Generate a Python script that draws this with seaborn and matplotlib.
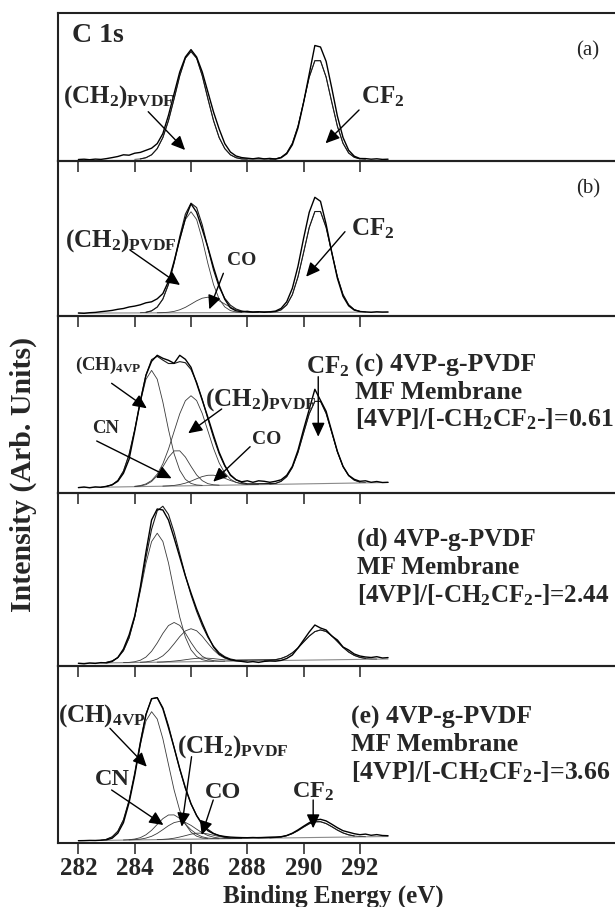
import numpy as np
import matplotlib
matplotlib.use("Agg")
from matplotlib import pyplot as plt
import seaborn as sns

# binding energy grid (eV) shared by every spectrum
energy = np.round(np.arange(282.0, 293.0001, 0.2), 1)

# measured C 1s spectra, 282.0 .. 293.0 eV (arb. units)
a_raw = [1.5, 1.8, 1.3, 1.9, 1.6, 2.4, 3.4, 4.5, 6.2, 5.8,
         7.8, 8.6, 10.7, 12.8, 17.4, 27.4, 45.7, 67.4, 89.0, 104.0,
         111.4, 104.0, 89.0, 69.0, 49.0, 32.0, 17.4, 9.0, 5.0, 3.4,
         2.8, 2.2, 3.0, 2.1, 2.6, 1.9, 3.2, 7.2, 16.2, 33.0,
         58.5, 87.0, 115.5, 114.0, 99.6, 73.0, 44.9, 23.5, 10.8, 4.8,
         2.5, 2.4, 1.8, 2.2, 1.6, 1.8]
b_raw = [3.3, 3.0, 3.6, 3.9, 4.6, 5.2, 5.9, 7.0, 7.8, 9.3,
         10.2, 11.5, 13.5, 14.5, 17.5, 22.7, 35.0, 55.0, 77.0, 98.0,
         112.5, 104.0, 87.0, 69.0, 49.0, 31.0, 17.0, 8.5, 5.5, 4.6,
         5.0, 4.2, 4.6, 4.0, 4.5, 5.2, 7.9, 14.5, 28.0, 50.0,
         78.0, 104.0, 119.0, 115.0, 92.0, 64.0, 38.0, 20.0, 10.5, 6.2,
         4.8, 4.4, 4.0, 4.5, 4.2, 4.3]
c_raw = [5.7, 6.3, 5.5, 6.4, 6.0, 7.0, 8.5, 12.0, 20.0, 34.0,
         62.0, 92.0, 118.0, 132.0, 138.0, 135.0, 133.0, 130.0, 138.0, 134.0,
         126.0, 110.0, 93.0, 76.0, 58.0, 41.0, 28.0, 18.0, 13.5, 11.5,
         12.5, 11.0, 12.5, 12.0, 11.0, 12.0, 13.5, 18.0, 27.0, 43.0,
         64.0, 84.0, 104.0, 93.0, 82.0, 62.0, 42.0, 27.0, 18.0, 14.0,
         12.0, 12.5, 11.0, 11.8, 10.8, 11.0]
d_raw = [2.7, 2.2, 3.0, 2.6, 3.4, 3.1, 4.5, 8.5, 17.0, 31.0,
         50.0, 79.0, 114.0, 146.0, 157.0, 156.0, 146.0, 128.0, 109.0, 90.0,
         73.0, 57.0, 43.0, 30.0, 19.0, 12.0, 8.5, 6.3, 5.2, 4.6,
         3.8, 4.4, 3.6, 4.6, 5.0, 4.8, 5.6, 7.5, 11.0, 18.0,
         26.0, 34.0, 41.0, 38.0, 36.0, 30.0, 26.0, 19.0, 16.0, 12.0,
         10.0, 9.0, 8.5, 9.3, 8.0, 8.4]
e_raw = [2.0, 2.1, 2.3, 2.2, 2.5, 2.9, 4.5, 9.5, 20.0, 40.0,
         67.0, 99.0, 128.0, 144.0, 145.0, 134.0, 115.0, 95.0, 74.0, 55.0,
         39.0, 27.0, 18.0, 12.0, 9.0, 7.2, 6.2, 5.6, 5.3, 5.1,
         5.0, 5.2, 4.9, 5.1, 5.3, 5.5, 6.0, 7.2, 9.5, 12.8,
         16.5, 20.0, 22.5, 23.4, 21.8, 18.5, 15.0, 12.0, 10.5, 9.0,
         8.0, 8.6, 7.4, 8.1, 7.2, 7.0]

# background line: level at 282 eV and at 293 eV
a_base = [1.5, 1.5]
b_base = [3.2, 4.2]
c_base = [5.7, 10.8]
d_base = [2.7, 7.0]
e_base = [2.0, 6.2]

# fitted components above the background: (first energy, values every 0.2 eV)
a_peaks = {
    "CH2": (284.0, [0.2, 0.6, 1.8, 4.7, 10.9, 21.9, 38.9, 60.8, 83.7, 101.3, 108.0,
                    101.3, 83.7, 60.8, 38.9, 21.9, 10.9, 4.7, 1.8, 0.6, 0.2]),
    "CF2": (288.8, [0.1, 0.6, 2.2, 6.5, 16.2, 33.3, 57.4, 82.4, 98.8,
                    98.8, 82.4, 57.4, 33.3, 16.2, 6.5, 2.2, 0.6, 0.1]),
}
b_peaks = {
    "CH2": (284.2, [0.2, 0.6, 2.0, 5.7, 13.6, 28.1, 49.2, 73.3, 93.2, 101.0,
                    93.2, 73.3, 49.2, 28.1, 13.6, 5.7, 2.0, 0.6, 0.2]),
    "CO": (284.8, [0.1, 0.2, 0.6, 1.4, 3.0, 5.4, 8.6, 11.9, 14.5, 15.5,
                   14.5, 11.9, 8.6, 5.4, 3.0, 1.4, 0.6, 0.2, 0.1]),
    "CF2": (288.8, [0.2, 0.8, 2.6, 7.5, 17.7, 35.5, 59.8, 84.8, 100.8,
                    100.8, 84.8, 59.8, 35.5, 17.7, 7.5, 2.6, 0.8, 0.2]),
}
c_peaks = {
    "CH": (282.8, [0.2, 0.7, 2.3, 6.5, 15.7, 32.2, 56.5, 84.2, 107.1, 116.0,
                   107.1, 84.2, 56.5, 32.2, 15.7, 6.5, 2.3, 0.7, 0.2]),
    "CN": (284.0, [0.1, 0.6, 1.8, 4.9, 10.7, 19.4, 28.8, 35.1,
                   35.1, 28.8, 19.4, 10.7, 4.9, 1.8, 0.6, 0.1]),
    "CH2": (284.0, [0.4, 1.0, 2.6, 5.9, 12.2, 22.4, 37.0, 54.6, 72.1, 85.1, 90.0,
                    85.1, 72.1, 54.6, 37.0, 22.4, 12.2, 5.9, 2.6, 1.0, 0.4]),
    "CO": (285.0, [0.1, 0.3, 0.6, 1.4, 2.7, 4.6, 6.9, 9.0, 10.2,
                   10.2, 9.0, 6.9, 4.6, 2.7, 1.4, 0.6, 0.3, 0.1]),
    "CF2": (288.8, [0.3, 0.9, 2.9, 7.5, 16.6, 31.5, 51.0, 70.1, 82.3,
                    82.3, 70.1, 51.0, 31.5, 16.6, 7.5, 2.9, 0.9, 0.3]),
}
d_peaks = {
    "CH": (282.8, [0.2, 0.6, 1.9, 5.1, 11.9, 24.6, 44.8, 71.2, 99.1, 120.7, 129.0,
                   120.7, 99.1, 71.2, 44.8, 24.6, 11.9, 5.1, 1.9, 0.6, 0.2]),
    "CN": (283.6, [0.1, 0.2, 0.8, 2.2, 5.3, 11.0, 19.2, 28.7, 36.5, 39.5,
                   36.5, 28.7, 19.2, 11.0, 5.3, 2.2, 0.8, 0.2, 0.1]),
    "CH2": (284.2, [0.2, 0.5, 1.3, 3.1, 6.3, 11.5, 18.2, 25.3, 30.9, 33.0,
                    30.9, 25.3, 18.2, 11.5, 6.3, 3.1, 1.3, 0.5, 0.2]),
    "CO": (284.8, [0.1, 0.2, 0.5, 0.9, 1.4, 2.1, 2.8, 3.3, 3.5,
                   3.3, 2.8, 2.1, 1.4, 0.9, 0.5, 0.2, 0.1]),
    "CF2": (288.6, [0.1, 0.3, 0.9, 2.0, 4.1, 7.5, 12.3, 18.2, 24.0, 28.4, 30.0,
                    28.4, 24.0, 18.2, 12.3, 7.5, 4.1, 2.0, 0.9, 0.3, 0.1]),
}
e_peaks = {
    "CH": (282.8, [0.3, 1.1, 3.4, 8.9, 20.1, 39.2, 65.8, 95.2, 118.9, 128.0,
                   120.6, 100.9, 75.0, 49.4, 28.9, 15.1, 7.0, 2.9, 1.0, 0.3]),
    "CN": (283.6, [0.1, 0.3, 0.9, 2.2, 5.0, 9.4, 15.2, 20.9, 24.5,
                   24.5, 20.9, 15.2, 9.4, 5.0, 2.2, 0.9, 0.3, 0.1]),
    "CH2": (283.8, [0.1, 0.3, 0.7, 1.7, 3.4, 6.2, 9.9, 13.8, 16.8, 18.0,
                    16.8, 13.8, 9.9, 6.2, 3.4, 1.7, 0.7, 0.3, 0.1]),
    "CO": (284.8, [0.1, 0.2, 0.5, 1.2, 2.3, 3.6, 5.0, 5.9,
                   5.9, 5.0, 3.6, 2.3, 1.2, 0.5, 0.2, 0.1]),
    "CF2": (288.8, [0.1, 0.4, 1.0, 2.2, 4.2, 7.1, 10.6, 13.8, 15.7,
                    15.7, 13.8, 10.6, 7.1, 4.2, 2.2, 1.0, 0.4, 0.1]),
}

tick_values = [282, 284, 286, 288, 290, 292]
panel_tags = ["(a)", "(b)", None, None, None]

CH2 = r"(CH$_2$)$_{\rm PVDF}$"
CH4 = r"(CH)$_{\rm 4VP}$"
CF2 = r"CF$_2$"

# (text, energy, intensity, size) and arrows (from E, from I, to E, to I)
labels = [
    [("C 1s", 281.76, 126, 20), (CH2, 281.46, 64, 18), (CF2, 292.04, 64, 18)],
    [(CH2, 281.52, 76, 18), ("CO", 287.27, 56, 14), (CF2, 291.68, 88, 18)],
    [(CH4, 281.88, 128, 13.5), (CH2, 286.5, 94, 18), ("CN", 282.47, 65, 13.5),
     ("CO", 288.16, 54, 14), (CF2, 290.08, 127, 18)],
    [],
    [(CH4, 281.29, 127, 18), (CH2, 285.49, 96, 18), ("CN", 282.59, 63, 17.5),
     ("CO", 286.5, 50, 17.5), (CF2, 289.58, 51, 17.5)],
]
arrows = [
    [(284.48, 49.3, 285.79, 11.0), (291.97, 51.0, 290.78, 17.7)],
    [(283.83, 66.3, 285.61, 31.3), (287.15, 43.0, 286.65, 7.0), (291.47, 84.6, 290.09, 39.6)],
    [(283.18, 110.0, 284.43, 85.0), (287.09, 84.3, 285.9, 60.0), (282.65, 52.3, 285.31, 15.0),
     (288.1, 46.6, 286.79, 11.6), (290.52, 116.6, 290.52, 56.6)],
    [],
    [(283.12, 114.4, 284.43, 76.0), (286.02, 86.0, 285.67, 16.0), (283.18, 52.7, 285.02, 17.7),
     (286.79, 42.7, 286.38, 7.7), (290.34, 42.7, 290.34, 14.4)],
]
tag_pos = [(300.1, 110), (300.1, 127), None, None, None]
blocks = [
    None, None,
    (291.83, [128, 101, 74], "(c) 4VP-g-PVDF", "0.61", 18.5),
    (291.90, [127, 99, 71], "(d) 4VP-g-PVDF", "2.44", 18.0),
    (291.69, [125, 98, 71], "(e) 4VP-g-PVDF", "3.66", 18.5),
]

raws = [a_raw, b_raw, c_raw, d_raw, e_raw]
bases = [a_base, b_base, c_base, d_base, e_base]
peaks = [a_peaks, b_peaks, c_peaks, d_peaks, e_peaks]


def on_grid(start, vals):
    out = np.zeros(len(energy))
    i = int(round((start - energy[0]) / 0.2))
    out[i:i + len(vals)] = vals
    return out


sns.set_style("white")
plt.rcParams["font.family"] = ["Liberation Serif", "DejaVu Serif"]
plt.rcParams["font.weight"] = "bold"
plt.rcParams["mathtext.fontset"] = "custom"
plt.rcParams["mathtext.rm"] = "Liberation Serif:bold"
plt.rcParams["mathtext.it"] = "Liberation Serif:bold"
plt.rcParams["mathtext.bf"] = "Liberation Serif:bold"

W, H = 615, 907
edges = [13.3, 161.0, 316.3, 493.3, 666.0, 842.7]
left_px, right_px = 58, 620
px282, px_per_ev = 78.4, 28.15
xlim = (282 + (left_px - px282) / px_per_ev, 282 + (right_px - px282) / px_per_ev)

fig = plt.figure(figsize=(W / 100, H / 100), dpi=100)
arrow_kw = dict(arrowstyle="-|>,head_length=0.6,head_width=0.28", color="black",
                lw=1.0, shrinkA=0, shrinkB=0, mutation_scale=14)

for i in range(5):
    top, bot = edges[i], edges[i + 1]
    ax = fig.add_axes([left_px / W, 1 - bot / H, (right_px - left_px) / W, (bot - top) / H])
    ax.set_facecolor("none")

    base = np.linspace(bases[i][0], bases[i][1], len(energy))
    sns.lineplot(x=[282.0, 293.0], y=bases[i], ax=ax, color="#8a8a8a", linewidth=0.8)

    total = np.zeros(len(energy))
    for name, (start, vals) in peaks[i].items():
        comp = on_grid(start, vals)
        total += comp
        j = int(round((start - 282.0) / 0.2))
        seg = slice(j, j + len(vals))
        sns.lineplot(x=energy[seg], y=comp[seg] + base[seg], ax=ax,
                     color="#3a3a3a", linewidth=0.6, estimator=None, sort=False)
    mask = total > 0.4
    sns.lineplot(x=energy[mask], y=(total + base)[mask], ax=ax,
                 color="#1a1a1a", linewidth=0.8, estimator=None, sort=False)
    sns.lineplot(x=energy, y=raws[i], ax=ax, color="black", linewidth=1.0,
                 estimator=None, sort=False)

    ax.set_xlim(xlim)
    ax.set_ylim(0, bot - top)
    ax.set_yticks([])
    ax.set_xticks(tick_values)
    ax.set_xlabel("")
    ax.set_ylabel("")
    ax.tick_params(axis="x", direction="out", length=8, width=1.1, color="#222222",
                   bottom=True, top=False, labelbottom=(i == 4), labelsize=18, pad=2)
    for sp in ax.spines.values():
        sp.set_linewidth(1.5)
        sp.set_color("#222222")

    for txt, ex, iy, size in labels[i]:
        ax.text(ex, iy, txt, fontsize=size, fontweight="bold", ha="left", va="center")
    for x0, y0, x1, y1 in arrows[i]:
        ax.annotate("", xy=(x1, y1), xytext=(x0, y0), arrowprops=arrow_kw)
    if panel_tags[i]:
        tx, ty = tag_pos[i]
        ax.text(tx, ty, panel_tags[i], fontsize=15, fontweight="normal",
                ha="center", va="center")
    if blocks[i]:
        bx, ys, head, ratio, fs = blocks[i]
        ax.text(bx, ys[0], head, fontsize=fs, ha="left", va="center")
        ax.text(bx, ys[1], "MF Membrane", fontsize=fs, ha="left", va="center")
        ax.text(bx, ys[2], r"[4VP]/[-CH$_2$CF$_2$-]=" + ratio, fontsize=fs,
                ha="left", va="center")

fig.text(23 / W, 1 - 474 / H, "Intensity (Arb. Units)", rotation=90, fontsize=21.5,
         fontweight="bold", ha="center", va="center")
fig.text(333 / W, 1 - 896 / H, "Binding Energy (eV)", fontsize=18,
         fontweight="bold", ha="center", va="center")

fig.savefig("out.png", dpi=100)
